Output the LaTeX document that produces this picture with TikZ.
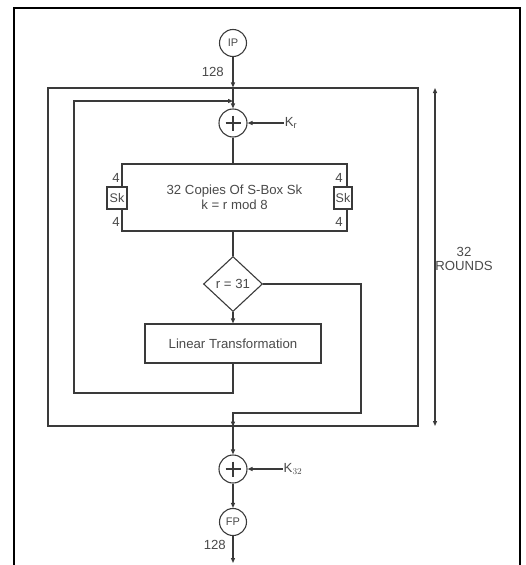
\documentclass[tikz,border=0pt]{standalone}
\usepackage{fontspec}
\setmainfont{Liberation Sans}
\usepackage{xcolor}
\usepackage{tikz}
\usetikzlibrary{calc,arrows.meta,positioning,shapes.geometric}
\definecolor{linec}{HTML}{3A3A3A}
\definecolor{txtc}{HTML}{4A4A4A}
\tikzset{
  ar/.style={-{Triangle[length=5pt,width=4pt]},line width=1.1pt,linec},
  ln/.style={line width=1.1pt,linec},
  blk/.style={draw=linec,line width=1.1pt,inner sep=0pt,text=txtc},
  ring/.style={circle,draw=linec,line width=1.1pt,minimum size=27pt,inner sep=0pt,text=txtc,font=\fontsize{11}{12}\selectfont},
  lbl/.style={text=txtc,inner sep=1pt,font=\fontsize{13.2}{14.5}\selectfont}
}
\begin{document}
\begin{tikzpicture}[x=1pt,y=-1pt]
\useasboundingbox (0,0) rectangle (526,565);
\draw[line width=2.6pt,black] (14,8) rectangle (520,580);
\node[ring] (ip) at (233,43) {IP};
\node[lbl,anchor=east] at (225,72) {128};
\node[blk,minimum width=370pt,minimum height=338pt] (rounds) at (233,257) {};
\node[ring,minimum size=28pt] (xor1) at (233,123) {};
\draw[line width=1.7pt,linec] ($(xor1.center)+(-7.5,0)$) -- ($(xor1.center)+(7.5,0)$) ($(xor1.center)+(0,-7.5)$) -- ($(xor1.center)+(0,7.5)$);
\node[lbl] (k1) at (291,123) {K$_{\mathrm{r}}$};
\node[blk,minimum width=225pt,minimum height=67pt,align=center,lbl] (sbox) at (234.5,197.5) {32 Copies Of S-Box Sk\\k = r mod 8};
\node[blk,fill=white,minimum width=20pt,minimum height=22pt,font=\fontsize{12.5}{14}\selectfont] (skl) at (117,198) {Sk};
\node[blk,fill=white,minimum width=18pt,minimum height=22pt,font=\fontsize{12.5}{14}\selectfont] (skr) at (343,198) {Sk};
\node[lbl] (l1) at (116,178) {4};
\node[lbl] (l2) at (116,222) {4};
\node[lbl] (l3) at (339,178) {4};
\node[lbl] (l4) at (339,222) {4};
\node[blk,diamond,minimum width=59pt,minimum height=55pt,inner sep=1pt,lbl] (dec) at (233,284) {r = 31};
\node[blk,minimum width=176pt,minimum height=39pt,lbl] (lt) at (233,343.5) {Linear Transformation};
\node[ring,minimum size=28pt] (xor2) at (233,469) {};
\draw[line width=1.7pt,linec] ($(xor2.center)+(-7.5,0)$) -- ($(xor2.center)+(7.5,0)$) ($(xor2.center)+(0,-7.5)$) -- ($(xor2.center)+(0,7.5)$);
\node[lbl] (k2) at (293,469) {K$_{32}$};
\node[ring] (fp) at (233,522) {FP};
\node[lbl,anchor=east] at (227,545) {128};
\coordinate (fb) at (233,101);
\coordinate (fbl) at (74,393);
\coordinate (ex) at (361,413);
\coordinate (out) at (233,563);
\coordinate (rtop) at (435,88);
\coordinate (rbot) at (435,426);
\node[lbl,align=center] (rl) at (464,259) {32\\ROUNDS};
\draw[ar] (ip) -- (rounds.north);
\draw[ar] (rounds.north) -- (xor1);
\draw[ar] (k1) -- (xor1);
\draw[ln] (xor1) -- (xor1|-sbox.north);
\draw[ln] (sbox.south-|dec.north) -- (dec.north);
\draw[ar] (dec) -- (lt);
\draw[ar] (lt.south) |- (fbl) |- (fb);
\draw[ar] (dec.east) -| (ex) -| (rounds.south);
\draw[ar] (rounds.south) -- (xor2);
\draw[ar] (k2) -- (xor2);
\draw[ar] (xor2) -- (fp);
\draw[ar] (fp) -- (out);
\draw[ar,{Triangle[length=5pt,width=4pt]}-{Triangle[length=5pt,width=4pt]}] (rtop) -- (rbot);
\end{tikzpicture}
\end{document}
